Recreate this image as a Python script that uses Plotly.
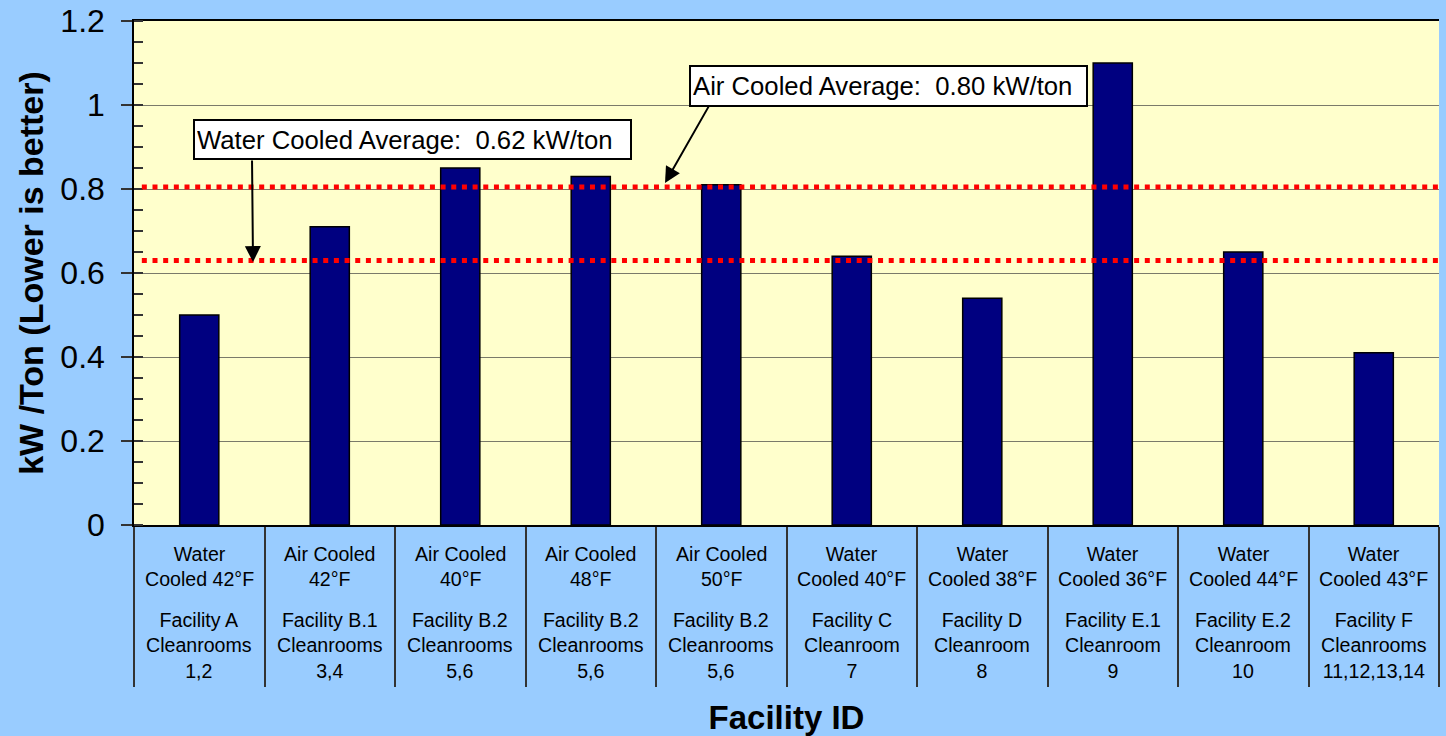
import plotly.graph_objects as go

# ---- data ----
cooling = ["Water<br>Cooled 42°F", "Air Cooled<br>42°F", "Air Cooled<br>40°F", "Air Cooled<br>48°F",
           "Air Cooled<br>50°F", "Water<br>Cooled 40°F", "Water<br>Cooled 38°F", "Water<br>Cooled 36°F",
           "Water<br>Cooled 44°F", "Water<br>Cooled 43°F"]
facility = ["Facility A<br>Cleanrooms<br>1,2", "Facility B.1<br>Cleanrooms<br>3,4",
            "Facility B.2<br>Cleanrooms<br>5,6", "Facility B.2<br>Cleanrooms<br>5,6",
            "Facility B.2<br>Cleanrooms<br>5,6", "Facility C<br>Cleanroom<br>7",
            "Facility D<br>Cleanroom<br>8", "Facility E.1<br>Cleanroom<br>9",
            "Facility E.2<br>Cleanroom<br>10", "Facility F<br>Cleanrooms<br>11,12,13,14"]
kw_per_ton = [0.50, 0.71, 0.85, 0.83, 0.81, 0.64, 0.54, 1.10, 0.65, 0.41]
water_avg_line = 0.63
air_avg_line = 0.805
water_avg_text = "Water Cooled Average:  0.62 kW/ton"
air_avg_text = "Air Cooled Average:  0.80 kW/ton"
y_ticks = [0, 0.2, 0.4, 0.6, 0.8, 1.0, 1.2]
y_tick_text = ["0", "0.2", "0.4", "0.6", "0.8", "1", "1.2"]

categories = [c + "<br>" + f for c, f in zip(cooling, facility)]

FONT = "Liberation Sans, Arial, sans-serif"

fig = go.Figure()
fig.add_trace(go.Bar(
    x=categories, y=kw_per_ton, width=0.3,
    marker=dict(color="#000080", line=dict(color="black", width=1.5)),
    showlegend=False, hoverinfo="x+y",
))

# red dotted average lines
for val in [air_avg_line, water_avg_line]:
    fig.add_shape(type="line", xref="paper", yref="y", x0=0.006, x1=1, y0=val, y1=val,
                  line=dict(color="#FF0000", width=5, dash="5px,5.67px"), layer="above")

annotations = []
# category labels (two groups per category)
for cat, c, f in zip(categories, cooling, facility):
    annotations.append(dict(x=cat, xref="x", y=-0.0814, yref="paper", text=c, showarrow=False,
                            xanchor="center", yanchor="middle", font=dict(size=19.6, color="black", family=FONT)))
    annotations.append(dict(x=cat, xref="x", y=-0.2391, yref="paper", text=f, showarrow=False,
                            xanchor="center", yanchor="middle", font=dict(size=19.6, color="black", family=FONT)))

# callout boxes
annotations.append(dict(x=0.2134, xref="paper", y=0.918, yref="y", text=water_avg_text, showarrow=False,
                        xanchor="center", yanchor="middle", align="left", width=431, height=33,
                        bgcolor="white", bordercolor="black", borderwidth=2, borderpad=2,
                        font=dict(size=25.7, color="black", family=FONT)))
annotations.append(dict(x=0.5782, xref="paper", y=1.045, yref="y", text=air_avg_text, showarrow=False,
                        xanchor="center", yanchor="middle", align="left", width=391, height=34,
                        bgcolor="white", bordercolor="black", borderwidth=2, borderpad=2,
                        font=dict(size=25.7, color="black", family=FONT)))
# arrows
annotations.append(dict(x=0.0912, xref="paper", y=0.626, yref="y", text="", showarrow=True,
                        ax=-1, ay=-103, arrowhead=2, arrowsize=1.6, arrowwidth=2, arrowcolor="black"))
annotations.append(dict(x=0.4069, xref="paper", y=0.814, yref="y", text="", showarrow=True,
                        ax=45, ay=-79, arrowhead=2, arrowsize=1.6, arrowwidth=2, arrowcolor="black"))

fig.update_layout(
    width=1446, height=736, autosize=False,
    margin=dict(l=134, r=7, t=21, b=211, pad=0, autoexpand=False),
    paper_bgcolor="#99CCFF", plot_bgcolor="#FFFFCC",
    font=dict(family=FONT, color="black"),
    bargap=0.7,
    annotations=annotations,
)

fig.update_xaxes(
    type="category", showticklabels=False, tickson="boundaries", automargin=False,
    ticks="outside", ticklen=160, tickwidth=1.5, tickcolor="#333333",
    showgrid=False, showline=True, linecolor="black", linewidth=1.5, mirror=True,
    title=dict(text="<b>Facility ID</b>", font=dict(size=33, color="black", family=FONT), standoff=183),
)
fig.update_yaxes(
    range=[0, 1.2], tickvals=y_ticks, ticktext=y_tick_text, automargin=False,
    ticks="outside", ticklen=11, tickwidth=1.5, tickcolor="#333333",
    tickfont=dict(size=32, color="black", family=FONT), ticklabelstandoff=10,
    showgrid=True, gridcolor="#7A7A6A", gridwidth=1,
    showline=True, linecolor="black", linewidth=1.5, zeroline=False,
    minor=dict(dtick=0.05, ticks="inside", ticklen=9, tickwidth=1.5, tickcolor="#333333", showgrid=False),
    title=dict(text="<b>kW /Ton (Lower is better)</b>", font=dict(size=34, color="black", family=FONT), standoff=6),
)

fig.write_html("out.html", config={"displayModeBar": False},
               post_script="document.body.style.margin='0';")
